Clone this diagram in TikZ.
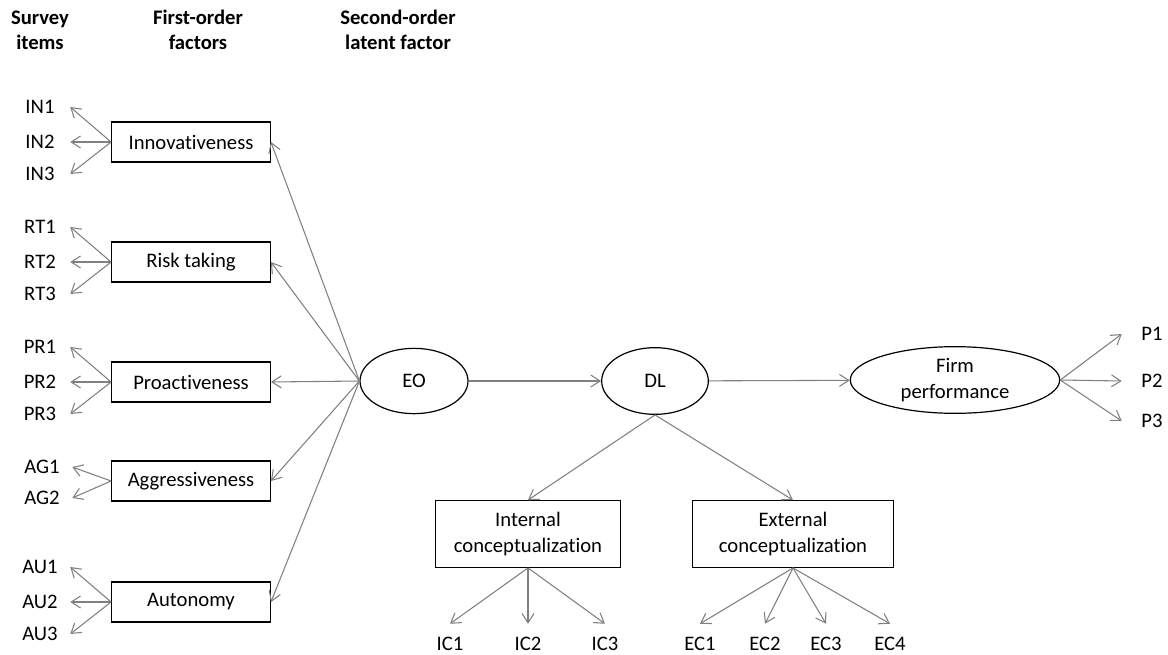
\documentclass[tikz,border=0pt]{standalone}
\usepackage{fontspec}
\setmainfont[Ligatures=NoCommon]{Carlito}
\usetikzlibrary{arrows.meta,shapes.geometric}

\begin{document}
\begin{tikzpicture}[x=0.75pt,y=-0.75pt,>={Straight Barb[length=7pt,width=9pt]},
  every node/.style={font=\fontsize{15.5}{19}\selectfont,align=center},
  head/.style={font=\fontsize{15.5}{19}\selectfont\bfseries},
  factor/.style={draw,line width=0.9pt,minimum width=119pt,minimum height=30pt,inner sep=2pt},
  latent/.style={ellipse,draw,line width=0.9pt,inner sep=0pt},
  item/.style={minimum width=45pt,minimum height=30pt,inner sep=0pt},
  load/.style={->,draw=black!50,line width=0.8pt}]
  \useasboundingbox (0,0) rectangle (1168,654);
  % column headings
  \node[head] (hitems) at (40,30) {Survey\\items};
  \node[head] (hfirst) at (198,30) {First-order\\factors};
  \node[head] (hsecond) at (398,30) {Second-order\\latent factor};
  % first-order factors
  \node[factor] (inno) at (191,142) {Innovativeness};
  \node[factor] (risk) at (191,262) {Risk taking};
  \node[factor] (proa) at (191,382) {Proactiveness};
  \node[factor] (aggr) at (191,481) {Aggressiveness};
  \node[factor] (auto) at (191,602) {Autonomy};
  % survey items
  \foreach \f/\c/\y in {inno/IN/142,risk/RT/262,proa/PR/382,auto/AU/602}{
    \node[item] (\c1) at (40,\y-35) {\c1};
    \node[item] (\c2) at (40,\y) {\c2};
    \node[item] (\c3) at (40,\y+32) {\c3};
    \foreach \i in {1,2,3} \draw[load] (\f.west) -- (\c\i.east);
  }
  \node[item] (AG1) at (42,467) {AG1};
  \node[item] (AG2) at (42,498) {AG2};
  \draw[load] (aggr.west) -- (AG1.east);
  \draw[load] (aggr.west) -- (AG2.east);
  % latent factors
  \node[latent,minimum width=81pt,minimum height=49pt] (eo) at (414,381) {EO};
  \node[latent,minimum width=80pt,minimum height=50pt] (dl) at (655,381) {DL};
  \node[latent,minimum width=157pt,minimum height=50pt] (perf) at (955,380) {Firm\\performance};
  \foreach \f in {inno,risk,proa,aggr,auto} \draw[load] (eo.west) -- (\f.east);
  \draw[load] (eo) -- (dl);
  \draw[load] (dl) -- (perf);
  % performance items
  \node[item] (P1) at (1152,334) {P1};
  \node[item] (P2) at (1152,381) {P2};
  \node[item] (P3) at (1152,421) {P3};
  \foreach \i in {1,2,3} \draw[load] (perf.east) -- (P\i.west);
  % conceptualization
  \node[factor,minimum width=139pt,minimum height=50pt] (intc) at (528,534) {Internal\\conceptualization};
  \node[factor,minimum width=151pt,minimum height=50pt] (extc) at (793,534) {External\\conceptualization};
  \draw[load] (dl.south) -- (intc.north);
  \draw[load] (dl.south) -- (extc.north);
  \foreach \c/\x in {IC1/450,IC2/528,IC3/605}{
    \node[item] (\c) at (\x,644) {\c};
    \draw[load] (intc.south) -- (\c.north);
  }
  \foreach \c/\x in {EC1/700,EC2/765,EC3/826,EC4/890}{
    \node[item] (\c) at (\x,644) {\c};
    \draw[load] (extc.south) -- (\c.north);
  }
\end{tikzpicture}
\end{document}
